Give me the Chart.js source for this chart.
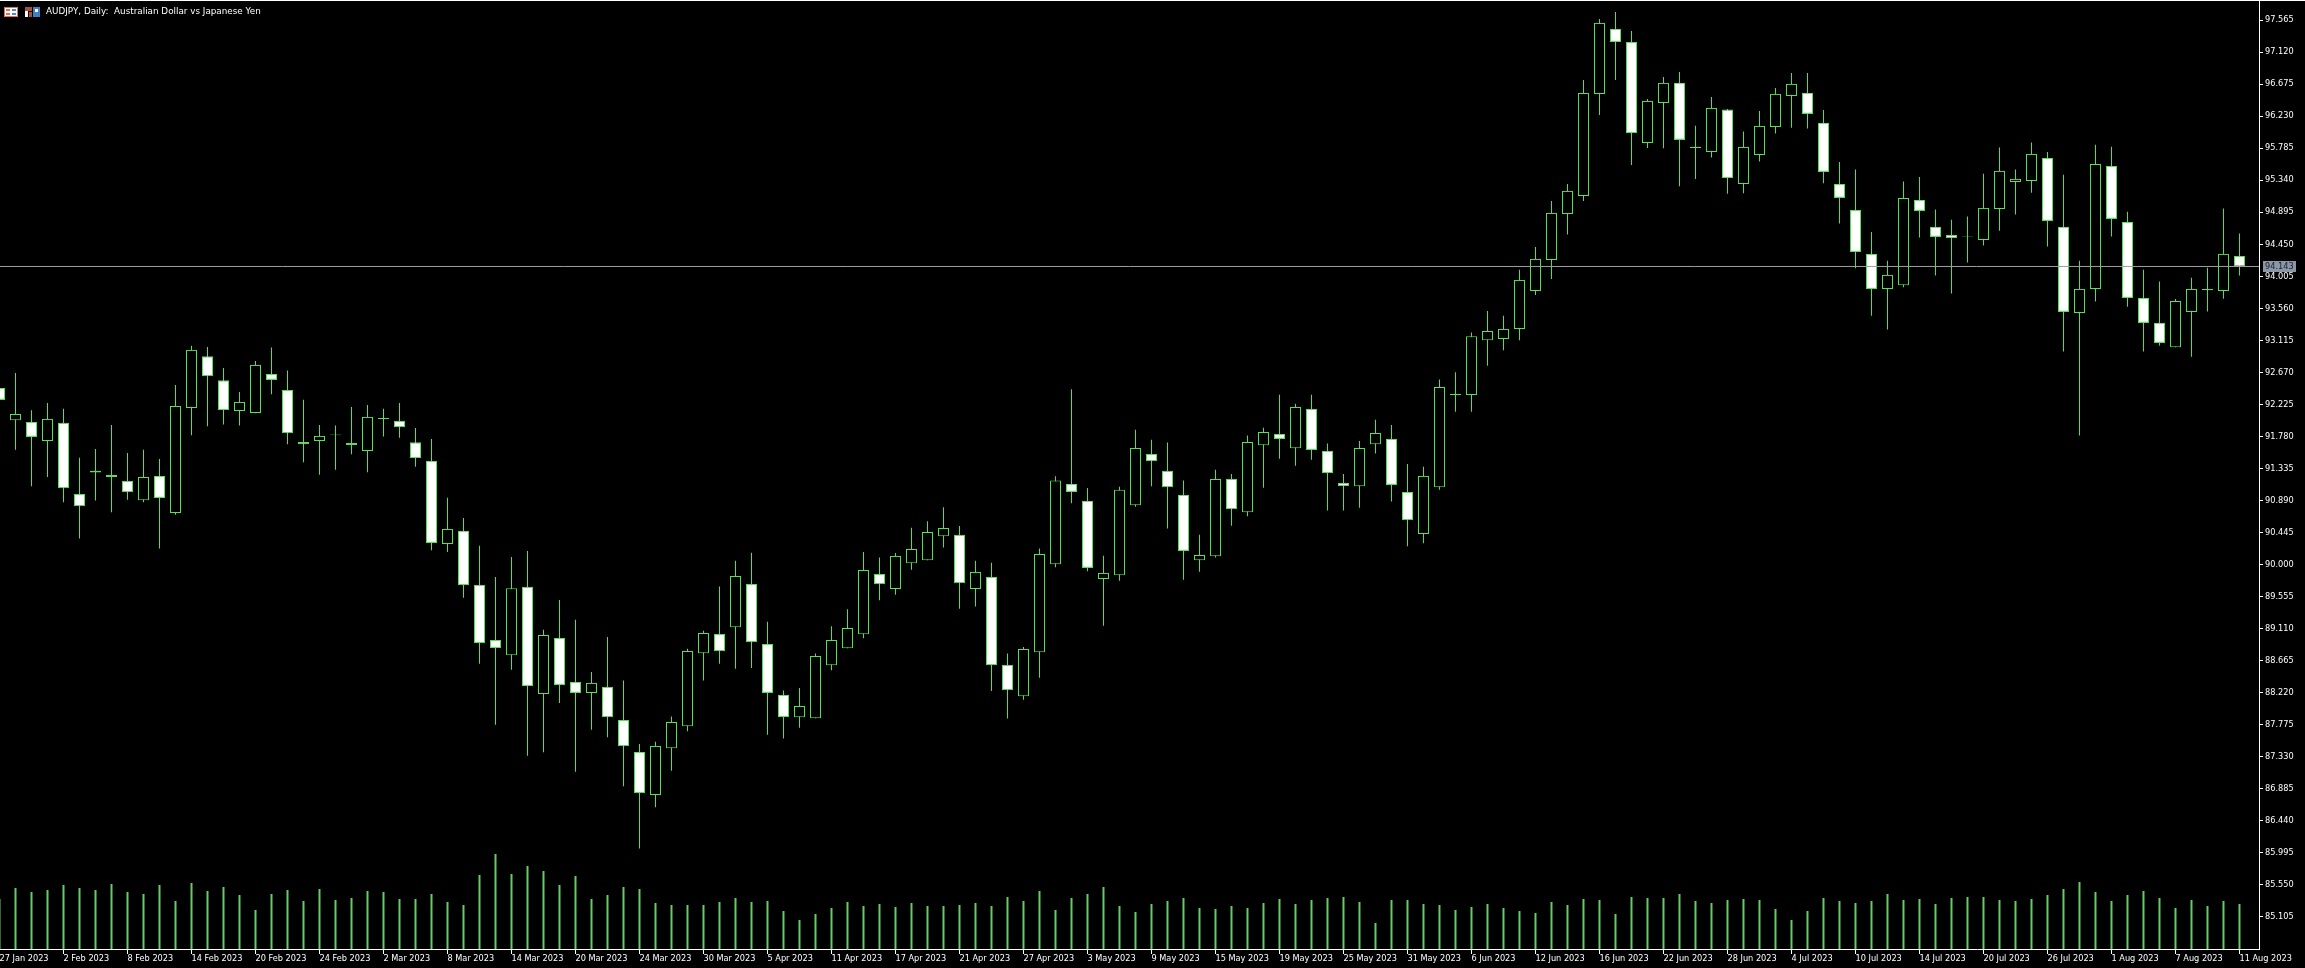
<!DOCTYPE html>
<html>
<head>
<meta charset="utf-8">
<title>AUDJPY, Daily</title>
<script src="https://cdn.jsdelivr.net/npm/chart.js@4/dist/chart.umd.min.js"></script>
<style>
    html, body { margin: 0; padding: 0; background: #000; overflow: hidden; }
    #wrap { position: relative; width: 2305px; height: 968px; }
    #wrap canvas { display: block; }
    #icons { position: absolute; left: 4px; top: 6px; }
    #caption {
        position: absolute; left: 46px; top: 6px; color: #fff; white-space: pre;
        font: 8.8px/11px "DejaVu Sans", sans-serif;
    }
</style>
</head>
<body>
<div id="wrap">
    <canvas id="chart" width="2305" height="968"></canvas>
    <svg id="icons" width="38" height="12">
        <rect x="0.5" y="1.5" width="13" height="9" fill="#fff" stroke="#e0705a"/>
        <rect x="2" y="3" width="4" height="2" fill="#e0705a"/>
        <rect x="8" y="3" width="4" height="2" fill="#5a86c8"/>
        <rect x="2" y="7" width="4" height="2" fill="#e0705a"/>
        <rect x="8" y="7" width="4" height="2" fill="#5a86c8"/>
        <rect x="21" y="1" width="7" height="4" fill="#a8503c"/>
        <rect x="21" y="5" width="3" height="6" fill="#fff"/>
        <rect x="25" y="6" width="3" height="5" fill="#a8503c"/>
        <rect x="29" y="1" width="7" height="10" fill="#3f7fc4"/>
        <rect x="31" y="3" width="3" height="3" fill="#fff"/>
    </svg>
    <div id="caption">AUDJPY, Daily:  Australian Dollar vs Japanese Yen</div>
</div>
<script>
"use strict";

const dateLabels = [
    "27 Jan 2023", "2 Feb 2023", "8 Feb 2023", "14 Feb 2023", "20 Feb 2023", "24 Feb 2023",
    "2 Mar 2023", "8 Mar 2023", "14 Mar 2023", "20 Mar 2023", "24 Mar 2023", "30 Mar 2023",
    "5 Apr 2023", "11 Apr 2023", "17 Apr 2023", "21 Apr 2023", "27 Apr 2023", "3 May 2023",
    "9 May 2023", "15 May 2023", "19 May 2023", "25 May 2023", "31 May 2023", "6 Jun 2023",
    "12 Jun 2023", "16 Jun 2023", "22 Jun 2023", "28 Jun 2023", "4 Jul 2023", "10 Jul 2023",
    "14 Jul 2023", "20 Jul 2023", "26 Jul 2023", "1 Aug 2023", "7 Aug 2023", "11 Aug 2023",
];

const priceTicks = [
    97.565, 97.12, 96.675, 96.23, 95.785, 95.34, 94.895, 94.45, 94.005, 93.56,
    93.115, 92.67, 92.225, 91.78, 91.335, 90.89, 90.445, 90.0, 89.555, 89.11,
    88.665, 88.22, 87.775, 87.33, 86.885, 86.44, 85.995, 85.55, 85.105,
];

const lastPrice = 94.143;

const opens = [
    92.456, 92.005, 91.983, 91.719, 91.969, 90.983, 91.306, 91.247, 91.163, 90.894,
    91.233, 90.719, 92.178, 92.895, 92.561, 92.136, 92.108, 92.650, 92.428, 91.705,
    91.719, 91.807, 91.691, 91.580, 92.039, 91.997, 91.700, 91.441, 90.288, 90.469,
    89.718, 88.954, 88.740, 89.690, 88.204, 88.982, 88.371, 88.218, 88.301, 87.842,
    87.398, 86.800, 87.448, 87.754, 88.768, 89.037, 89.129, 89.732, 88.898, 88.190,
    87.879, 87.865, 88.601, 88.837, 89.032, 89.871, 89.663, 90.018, 90.060, 90.394,
    90.413, 89.663, 89.829, 88.607, 88.171, 88.782, 90.005, 91.122, 90.886, 89.802,
    89.854, 90.824, 91.538, 91.302, 90.969, 90.060, 90.116, 91.191, 90.727, 91.658,
    91.816, 91.616, 92.164, 91.580, 91.136, 91.088, 91.672, 91.747, 91.011, 90.427,
    91.074, 92.358, 92.358, 93.117, 93.136, 93.275, 93.803, 94.234, 94.873, 95.123,
    96.541, 97.444, 97.263, 95.860, 96.416, 96.694, 95.808, 95.735, 96.323, 95.290,
    95.693, 96.082, 96.513, 96.555, 96.138, 95.290, 94.929, 94.318, 93.831, 93.881,
    95.068, 94.693, 94.582, 94.568, 94.512, 94.943, 95.318, 95.332, 95.651, 94.693,
    93.498, 93.831, 95.540, 94.762, 93.706, 93.359, 93.020, 93.512, 93.831, 93.803,
    94.290,
];

const closes = [
    92.289, 92.094, 91.775, 92.025, 91.061, 90.810, 91.279, 91.219, 91.005, 91.219,
    90.927, 92.206, 92.984, 92.617, 92.150, 92.261, 92.775, 92.567, 91.825, 91.672,
    91.789, 91.797, 91.664, 92.053, 92.025, 91.908, 91.483, 90.302, 90.496, 89.718,
    88.912, 88.843, 89.671, 88.315, 89.023, 88.329, 88.218, 88.357, 87.879, 87.476,
    86.828, 87.481, 87.815, 88.801, 89.051, 88.796, 89.843, 88.921, 88.218, 87.884,
    88.037, 88.732, 88.954, 89.121, 89.927, 89.727, 90.121, 90.218, 90.455, 90.510,
    89.741, 89.899, 88.607, 88.254, 88.829, 90.149, 91.168, 91.011, 89.955, 89.885,
    91.042, 91.622, 91.436, 91.074, 90.191, 90.135, 91.191, 90.769, 91.705, 91.844,
    91.747, 92.192, 91.594, 91.274, 91.088, 91.622, 91.830, 91.108, 90.616, 91.233,
    92.469, 92.372, 93.174, 93.248, 93.275, 93.956, 94.248, 94.887, 95.193, 96.555,
    97.527, 97.263, 95.999, 96.443, 96.694, 95.902, 95.790, 96.346, 95.374, 95.804,
    96.096, 96.541, 96.680, 96.263, 95.457, 95.096, 94.345, 93.831, 94.026, 95.096,
    94.915, 94.554, 94.534, 94.558, 94.957, 95.471, 95.360, 95.707, 94.776, 93.512,
    93.831, 95.568, 94.804, 93.706, 93.359, 93.081, 93.665, 93.831, 93.812, 94.318,
    94.143,
];

const highs = [
    92.515, 92.664, 92.144, 92.247, 92.168, 91.487, 91.608, 91.942, 91.552, 91.598,
    91.469, 92.497, 93.043, 93.025, 92.734, 92.400, 92.831, 93.016, 92.696, 92.293,
    91.942, 91.932, 92.192, 92.219, 92.168, 92.247, 91.900, 91.747, 90.931, 90.649,
    90.264, 89.829, 90.107, 90.191, 89.097, 89.510, 89.236, 88.509, 88.996, 88.389,
    87.509, 87.541, 87.892, 88.833, 89.083, 89.695, 90.056, 90.167, 89.208, 88.250,
    88.287, 88.764, 89.143, 89.379, 90.177, 90.098, 90.163, 90.514, 90.602, 90.797,
    90.538, 90.056, 90.028, 88.764, 88.857, 90.223, 91.230, 92.438, 91.066, 90.125,
    91.084, 91.876, 91.737, 91.696, 91.168, 90.417, 91.320, 91.261, 91.793, 91.904,
    92.362, 92.237, 92.362, 91.682, 91.261, 91.719, 92.015, 91.942, 91.400, 91.362,
    92.571, 92.672, 93.224, 93.525, 93.460, 94.099, 94.415, 95.054, 95.290, 96.735,
    97.583, 97.680, 97.416, 96.471, 96.777, 96.846, 96.100, 96.499, 96.332, 96.017,
    96.304, 96.624, 96.832, 96.832, 96.318, 95.596, 95.489, 94.623, 94.224, 95.322,
    95.387, 94.933, 94.794, 94.836, 95.433, 95.795, 95.489, 95.864, 95.735, 95.419,
    94.224, 95.836, 95.808, 94.905, 94.099, 93.933, 93.692, 93.988, 94.127, 94.947,
    94.600,
];

const lows = [
    92.154, 91.598, 91.088, 91.219, 90.866, 90.362, 90.890, 90.727, 90.903, 90.866,
    90.223, 90.695, 91.797, 91.922, 91.946, 91.932, 92.103, 92.367, 91.672, 91.422,
    91.251, 91.320, 91.533, 91.283, 91.779, 91.765, 91.362, 90.199, 90.177, 89.542,
    88.625, 87.777, 88.541, 87.346, 87.392, 88.079, 87.124, 87.708, 87.601, 86.920,
    86.058, 86.628, 87.138, 87.684, 88.389, 88.625, 88.555, 88.565, 87.638, 87.583,
    87.735, 87.865, 88.532, 88.837, 88.976, 89.504, 89.583, 89.931, 90.060, 90.237,
    89.389, 89.417, 88.245, 87.861, 88.124, 88.430, 89.963, 90.852, 89.907, 89.153,
    89.778, 90.806, 91.088, 90.501, 89.792, 89.903, 90.098, 90.542, 90.671, 91.070,
    91.473, 91.376, 91.459, 90.751, 90.751, 90.792, 91.543, 90.876, 90.255, 90.296,
    91.042, 92.126, 92.126, 92.765, 92.978, 93.117, 93.748, 93.970, 94.586, 95.054,
    96.249, 96.735, 95.554, 95.790, 95.785, 95.257, 95.360, 95.656, 95.155, 95.160,
    95.600, 95.989, 96.072, 96.059, 95.298, 94.739, 94.117, 93.460, 93.266, 93.853,
    94.544, 94.016, 93.766, 94.197, 94.433, 94.641, 94.864, 95.169, 94.419, 92.960,
    91.793, 93.655, 94.558, 93.585, 92.960, 93.043, 93.020, 92.890, 93.516, 93.696,
    94.016,
];

const tickVolumes = [
    50, 61, 57, 59, 64, 61, 59, 65, 57, 55,
    64, 48, 66, 58, 62, 54, 39, 55, 59, 48,
    60, 49, 51, 58, 57, 50, 50, 55, 47, 44,
    74, 95, 75, 83, 78, 64, 73, 50, 54, 62,
    60, 46, 44, 44, 44, 47, 51, 47, 48, 38,
    29, 35, 41, 47, 43, 45, 42, 46, 43, 43,
    44, 46, 43, 52, 48, 58, 39, 51, 55, 62,
    43, 37, 45, 48, 51, 41, 40, 43, 41, 46,
    50, 45, 49, 51, 52, 47, 26, 49, 49, 45,
    44, 39, 42, 45, 41, 38, 36, 47, 44, 50,
    49, 35, 52, 51, 51, 55, 48, 46, 49, 50,
    49, 40, 29, 38, 51, 48, 46, 48, 55, 49,
    50, 45, 51, 52, 52, 49, 48, 50, 54, 60,
    67, 57, 48, 54, 58, 51, 41, 49, 43, 48,
    45,
];

const GREEN = "#58e058";
const VOLUME_GREEN = "#66cc66";

// One bar slot every 16px, first candle sits just off the left edge
const xMin = 0.03125;
const xMax = 141.22;
const yMax = 97.8455;
const yMin = 84.66;

const bars = (fn) => opens.map((_, i) => ({ x: i, y: fn(i) }));

// Little slate box with the current price, on the right axis
const lastPriceBox = {
    id: "lastPriceBox",
    afterDraw(chart) {
        const { ctx, scales } = chart;
        const y = Math.floor(scales.y.getPixelForValue(lastPrice));
        ctx.save();
        ctx.fillStyle = "#8a97a8";
        ctx.fillRect(2263, y - 5, 33, 11);
        ctx.fillStyle = "#1c2026";
        ctx.font = '8.2px "DejaVu Sans", sans-serif';
        ctx.textBaseline = "middle";
        ctx.textAlign = "left";
        ctx.fillText(lastPrice.toFixed(3), 2265, y + 1);
        // frame line along the top of the window
        ctx.fillStyle = "#ffffff";
        ctx.fillRect(0, 0, 2305, 1);
        ctx.restore();
    },
};

new Chart(document.getElementById("chart"), {
    data: {
        datasets: [
            {
                type: "line",
                order: 0,
                data: [
                    { x: xMin, y: lastPrice },
                    { x: xMax, y: lastPrice },
                ],
                borderColor: "#a0a0a0",
                borderWidth: 1,
                pointRadius: 0,
            },
            {
                type: "bar",
                order: 1,
                data: bars((i) => [opens[i], closes[i]]),
                barThickness: 11,
                backgroundColor: opens.map((o, i) => (closes[i] < o ? "#ffffff" : "#000000")),
                borderColor: GREEN,
                borderWidth: 1,
                borderSkipped: false,
                inflateAmount: 0,
            },
            {
                type: "bar",
                order: 2,
                data: bars((i) => [lows[i], highs[i]]),
                barThickness: 1,
                backgroundColor: GREEN,
                inflateAmount: 0,
            },
            {
                type: "bar",
                order: 3,
                yAxisID: "yVol",
                data: bars((i) => tickVolumes[i]),
                barThickness: 2,
                backgroundColor: VOLUME_GREEN,
                inflateAmount: 0,
            },
        ],
    },
    options: {
        responsive: false,
        animation: false,
        events: [],
        layout: { padding: 0 },
        datasets: { bar: { grouped: false } },
        plugins: {
            legend: { display: false },
            tooltip: { enabled: false },
        },
        scales: {
            x: {
                type: "linear",
                min: xMin,
                max: xMax,
                offset: false,
                grid: { offset: false, drawOnChartArea: false, tickLength: 5, tickColor: "#ffffff", tickWidth: 1 },
                border: { color: "#ffffff", width: 1 },
                ticks: {
                    autoSkip: false,
                    maxRotation: 0,
                    minRotation: 0,
                    align: "start",
                    padding: 0,
                    color: "#ffffff",
                    font: { family: '"DejaVu Sans", sans-serif', size: 8.2 },
                    callback: (value) => dateLabels[value / 4],
                },
                afterBuildTicks(scale) {
                    scale.ticks = dateLabels.map((_, i) => ({ value: i * 4 }));
                },
                afterFit(scale) {
                    scale.height = 19;
                    scale.paddingLeft = 0;
                    scale.paddingRight = 0;
                },
            },
            y: {
                type: "linear",
                position: "right",
                min: yMin,
                max: yMax,
                grid: { drawOnChartArea: false, tickLength: 4, tickColor: "#ffffff", tickWidth: 1 },
                border: { color: "#ffffff", width: 1 },
                ticks: {
                    autoSkip: false,
                    padding: 2,
                    color: "#ffffff",
                    font: { family: '"DejaVu Sans", sans-serif', size: 8.2 },
                    callback: (value) => value.toFixed(3),
                },
                afterBuildTicks(scale) {
                    scale.ticks = priceTicks.map((value) => ({ value }));
                },
                afterFit(scale) {
                    scale.width = 46;
                    scale.paddingTop = 0;
                    scale.paddingBottom = 0;
                },
            },
            yVol: {
                type: "linear",
                display: false,
                min: 0,
                max: 949,
            },
        },
    },
    plugins: [lastPriceBox],
});
</script>
</body>
</html>
